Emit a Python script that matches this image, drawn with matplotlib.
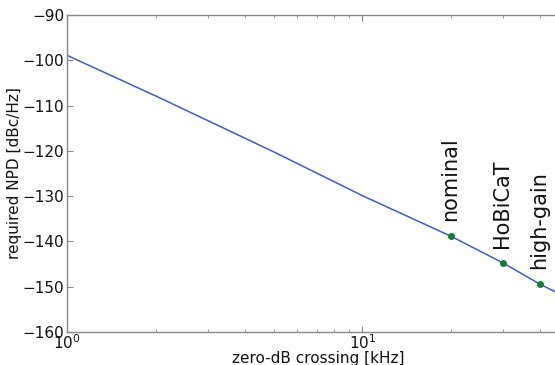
import matplotlib
matplotlib.use("Agg")
import matplotlib.pyplot as plt
from matplotlib.ticker import LogLocator, NullFormatter

# data
line_x = [1, 2, 5, 10, 20, 30, 40, 50]
line_y = [-98.9, -107.9, -120.2, -129.9, -138.9, -144.8, -149.5, -152.6]
point_x = [20, 30, 40]
point_y = [-138.9, -144.8, -149.5]
point_labels = ["nominal", "HoBiCaT", "high-gain"]
y_ticks = [-160, -150, -140, -130, -120, -110, -100, -90]

plt.rcParams['font.family'] = ['DejaVu Sans']
plt.rcParams['mathtext.fontset'] = 'dejavusans'

fig = plt.figure(figsize=(5.55, 3.65), dpi=100)
ax = fig.add_axes([0.1207, 0.0904, 0.9045, 0.8685])

ax.plot(line_x, line_y, color='#3d5cc8', lw=1.1, zorder=2)
ax.plot(point_x, point_y, 'o', color='#177a35', ms=4, zorder=3)
for x, y, lab in zip(point_x, point_y, point_labels):
    ax.annotate(lab, (x, y), xytext=(-1, 11), textcoords='offset points',
                rotation=90, ha='center', va='bottom', fontsize=15, color='#111111')

ax.set_xscale('log')
ax.set_xlim(1, 50)
ax.set_ylim(-160, -90)
ax.set_yticks(y_ticks)
ax.xaxis.set_major_locator(LogLocator(base=10))
ax.xaxis.set_minor_locator(LogLocator(base=10, subs=range(2, 10)))
ax.xaxis.set_minor_formatter(NullFormatter())

for s in ax.spines.values():
    s.set_color('#888888')
    s.set_linewidth(1.0)
ax.tick_params(which='both', direction='in', top=True, right=True, colors='#888888',
               labelcolor='#111111', labelsize=11)
ax.tick_params(which='major', length=4)
ax.tick_params(which='minor', length=2)
ax.tick_params(axis='x', pad=1)
ax.tick_params(axis='y', pad=2)

ax.set_xlabel('zero-dB crossing [kHz]', fontsize=11, labelpad=-1, color='#111111')
ax.set_ylabel('required NPD [dBc/Hz]', fontsize=11, labelpad=0, color='#111111')

fig.savefig('out.png', dpi=100)
